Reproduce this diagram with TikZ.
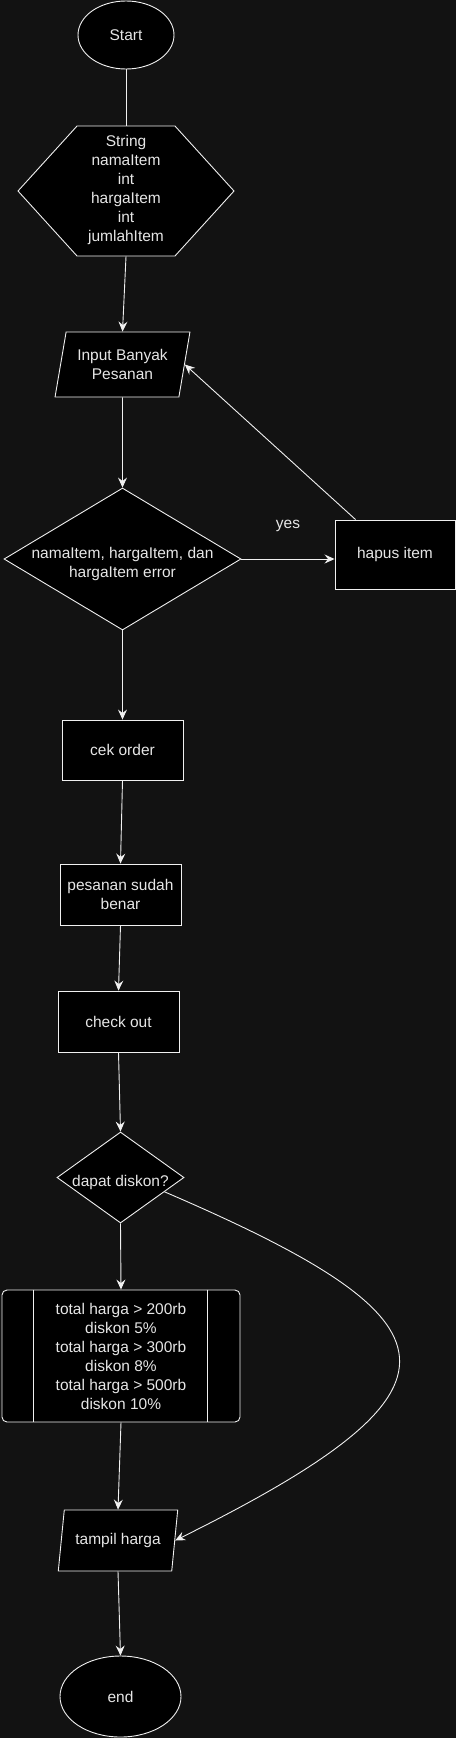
\documentclass[tikz,border=0pt]{standalone}
\usepackage{fontspec}
\setmainfont{Liberation Sans}
\usetikzlibrary{arrows.meta,shapes.geometric,shapes.symbols}

\definecolor{bgdark}{HTML}{121212}
\definecolor{inkline}{HTML}{F0F0F0}
\definecolor{inktext}{HTML}{E6E6E6}

\newcommand{\flatlines}[2][-9pt]{\smash{\raisebox{#1}{\begin{tabular}{@{}c@{}}#2\end{tabular}}}}

\tikzset{
  fcfont/.style={font=\fontsize{15.5}{19}\selectfont},
  fcnode/.style={draw=inkline, fill=black, text=inktext, line width=0.9pt, inner sep=0pt, align=center, fcfont},
  termnode/.style={fcnode, ellipse},
  hexnode/.style={fcnode, signal, signal to=west and east, signal pointer angle=95.5},
  ionode/.style={fcnode, trapezium, trapezium stretches=true},
  decnode/.style={fcnode, diamond, aspect=1.67},
  procnode/.style={fcnode, rectangle},
  subnode/.style={fcnode, rectangle, rounded corners=5pt},
  link/.style={color=inkline, line width=0.9pt},
  flow/.style={link, -{Stealth[length=10pt,width=9pt,inset=3.5pt]}},
}

\begin{document}
\begin{tikzpicture}[x=1pt, y=-1pt]
\useasboundingbox (0,0) rectangle (456,1738);
\fill[bgdark] (0,0) rectangle (456,1738);

\node[termnode, minimum width=96pt, minimum height=68pt] (start) at (126,35) {Start};
\node[hexnode, minimum width=216pt, minimum height=130pt] (vars) at (126,191) {\flatlines[-2.5pt]{String\\namaItem\\int\\hargaItem\\int\\jumlahItem}};
\node[ionode, trapezium left angle=73.7, trapezium right angle=106.3, minimum width=135pt, minimum height=65pt] (input) at (122.5,364.5) {Input Banyak\\Pesanan};
\node[decnode, minimum width=237pt, minimum height=142pt] (err) at (122.5,559) {\flatlines{namaItem, hargaItem, dan\\hargaItem error}};
\node[procnode, minimum width=120pt, minimum height=69pt] (hapus) at (395,554.5) {hapus item};
\node[procnode, minimum width=121pt, minimum height=60pt] (cek) at (122.5,750) {cek order};
\node[procnode, minimum width=121pt, minimum height=61pt] (benar) at (120.5,894.5) {pesanan sudah\\benar};
\node[procnode, minimum width=121pt, minimum height=61pt] (checkout) at (118.5,1021.5) {check out};
\node[decnode, minimum width=127pt, minimum height=91pt] (dskn) at (120.5,1177.5) {\flatlines{dapat diskon?}};
\node[subnode, minimum width=238pt, minimum height=132pt] (hitung) at (121,1356) {total harga > 200rb\\diskon 5\%\\total harga > 300rb\\diskon 8\%\\total harga > 500rb\\diskon 10\%};
\draw[link] ([xshift=32pt]hitung.north west) -- ([xshift=32pt]hitung.south west);
\draw[link] ([xshift=-33pt]hitung.north east) -- ([xshift=-33pt]hitung.south east);
\node[ionode, trapezium left angle=71.8, trapezium right angle=108.2, minimum width=120pt, minimum height=61pt] (tampil) at (118,1540.5) {tampil harga};
\node[termnode, minimum width=121pt, minimum height=81pt] (end) at (120.5,1696.5) {end};

\draw[link] (start.south) -- (vars.north);
\path[flow]
(vars.south) edge (input.north)
(input.south) edge (err.north)
(err.east) edge node[above=24pt, text=inktext, fcfont] {yes} (err.east -| hapus.west)
([xshift=21pt]hapus.north west) edge (input.east)
(err.south) edge (cek.north)
(cek.south) edge (benar.north)
(benar.south) edge (checkout.north)
(checkout.south) edge (dskn.north)
(dskn.south) edge (hitung.north)
(hitung.south) edge (tampil.north)
(tampil.south) edge (end.north)
;
\draw[flow] (dskn.-18.6) .. controls (466.5,1321.5) and (483.6,1387.5) .. (tampil.east);
\end{tikzpicture}
\end{document}
